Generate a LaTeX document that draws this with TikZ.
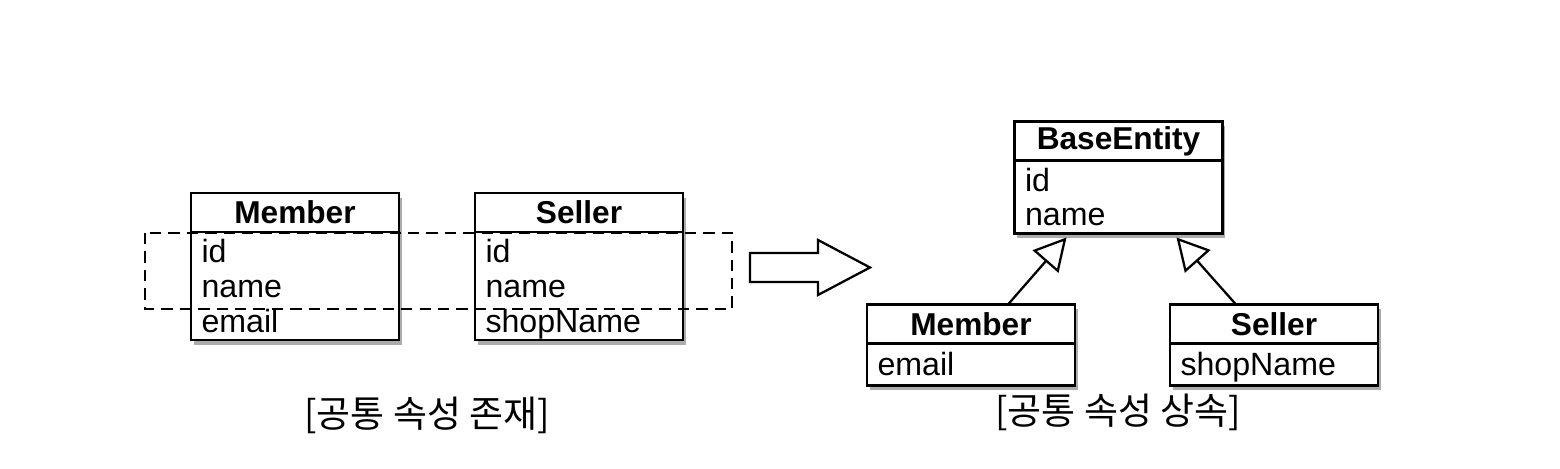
\documentclass[tikz,border=0pt]{standalone}
\usepackage{fontspec}
\setmainfont{Liberation Sans}
\newfontfamily\kofont{Noto Sans CJK KR}
\usetikzlibrary{positioning,calc,arrows.meta,shadows}

\tikzset{
    boxshadow/.style={drop shadow={shadow xshift=1.5pt, shadow yshift=-2.6pt, fill=black!65}},
    classhead/.style={draw, line width=1.6pt, fill=white, outer sep=0pt, inner sep=0pt,
        minimum width=4.16cm, minimum height=0.78cm,
        font=\fontsize{18}{20}\selectfont\bfseries, boxshadow},
    classbody/.style={draw, line width=1.6pt, fill=white, outer sep=0pt,
        text width=3.74cm, inner xsep=0.21cm, inner ysep=0pt, align=left,
        font=\fontsize{18.3}{19.8}\selectfont, boxshadow,
        execute at begin node=\rule{0pt}{16.8pt}, execute at end node=\vphantom{p}},
    dashbox/.style={line width=1.2pt, dash pattern=on 6.5pt off 4pt},
    inherit/.style={line width=1.3pt, -{Triangle[open, length=0.64cm, width=0.68cm, line width=1.3pt]}},
    caption/.style={font=\kofont\fontsize{21}{24}\selectfont}
}

\begin{document}
\begin{tikzpicture}[x=0.02cm, y=0.02cm]
    \useasboundingbox (0,0) rectangle (1560,469);

    % common attributes exist
    \node[classhead] (mh) at (295,256.5) {Member};
    \node[classbody, below=0pt of mh, minimum height=2.16cm] (mb) {id\\name\\email};

    \node[classhead] (sh) at (579,256.5) {Seller};
    \node[classbody, below=0pt of sh, minimum height=2.16cm] (sb) {id\\name\\shopName};

    % common part
    \draw[dashbox] (145,236) rectangle (732,160);

    \node[caption] (cap1) at (427,54) {[공통 속성 존재]};

    % block arrow
    \draw[line width=1.3pt, fill=white] (750,216) -- (818,216) -- (818,229) -- (870,201.5)
        -- (818,174) -- (818,187) -- (750,187) -- cycle;

    % common attributes inherited
    \node[classhead] (bh) at (1118.5,328) {BaseEntity};
    \node[classbody, below=0pt of bh, minimum height=1.46cm] (bb) {id\\name};

    \node[classhead] (rmh) at (971,145) {Member};
    \node[classbody, below=0pt of rmh, minimum height=0.84cm] (rmb) {email};

    \node[classhead] (rsh) at (1274,145) {Seller};
    \node[classbody, below=0pt of rsh, minimum height=0.84cm] (rsb) {shopName};

    \draw[inherit] ($(rmh.north)+(37,0)$) -- ($(bb.south)+(-52,-4)$);
    \draw[inherit] ($(rsh.north)+(-38,0)$) -- ($(bb.south)+(58,-4)$);

    \node[caption] (cap2) at (1118,57) {[공통 속성 상속]};

\end{tikzpicture}
\end{document}
